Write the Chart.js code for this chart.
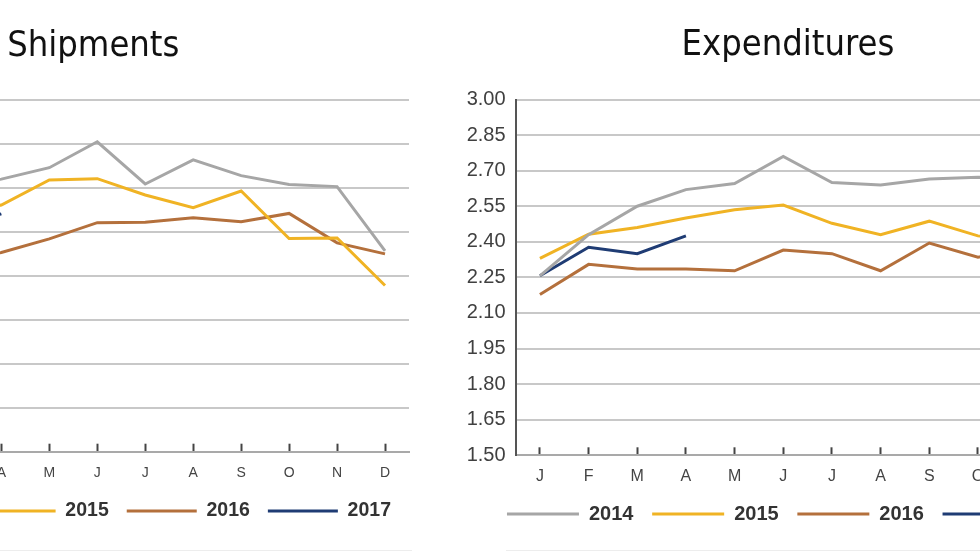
<!DOCTYPE html>
<html><head><meta charset="utf-8">
<script src="https://cdn.jsdelivr.net/npm/chart.js@4.4.1/dist/chart.umd.min.js"></script>
<style>
html,body{margin:0;padding:0;background:#fff;}
#stage{position:relative;width:980px;height:552px;overflow:hidden;background:#fff;}
#c1{position:absolute;left:-240px;top:0;}
#c2{position:absolute;left:440px;top:0;}
.rule{position:absolute;top:550px;height:1px;background:#ededed;}
</style></head><body>
<div id="stage">
<canvas id="c1" width="660" height="552"></canvas>
<canvas id="c2" width="687" height="552"></canvas>
<div class="rule" style="left:0;width:412px"></div>
<div class="rule" style="left:506px;width:474px"></div>
</div>
<script>
// ---- data ----
const months = ['J','F','M','A','M','J','J','A','S','O','N','D'];
const years = ['2014','2015','2016','2017'];
const seriesColors = ['#a6a6a6','#f0b324','#b4703c','#1f3c74'];

// Shipments (left chart)
const ship2014 = [5.55, 5.70, 6.00, 6.20, 6.46, 7.05, 6.09, 6.64, 6.28, 6.08, 6.03, 4.57];
const ship2015 = [5.10, 5.25, 5.40, 5.61, 6.18, 6.21, 5.84, 5.55, 5.93, 4.85, 4.86, 3.78];
const ship2016 = [4.05, 4.20, 4.35, 4.53, 4.84, 5.21, 5.22, 5.32, 5.23, 5.42, 4.75, 4.50];
const ship2017 = [4.60, 4.95, 5.10, 5.41];
const shipTicks = [0, 1, 2, 3, 4, 5, 6, 7, 8];

// Expenditures (right chart)
const exp2014 = [2.256, 2.430, 2.550, 2.620, 2.646, 2.760, 2.650, 2.640, 2.665, 2.672, 2.670, 2.600];
const exp2015 = [2.330, 2.432, 2.460, 2.500, 2.535, 2.555, 2.478, 2.430, 2.487, 2.425, 2.400, 2.360];
const exp2016 = [2.178, 2.305, 2.285, 2.285, 2.278, 2.365, 2.350, 2.278, 2.395, 2.335, 2.370, 2.330];
const exp2017 = [2.257, 2.377, 2.350, 2.425];
const expTicks = ['1.50','1.65','1.80','1.95','2.10','2.25','2.40','2.55','2.70','2.85','3.00'];

// ---- helpers ----
function makeDatasets(series) {
  return series.map((d, i) => ({
    label: years[i],
    data: d,
    borderColor: seriesColors[i],
    backgroundColor: seriesColors[i],
    borderWidth: 3,
    pointRadius: 0,
    pointHoverRadius: 0,
    tension: 0,
    fill: false
  }));
}
const legendLabels = (chart) =>
  Chart.defaults.plugins.legend.labels.generateLabels(chart).map(it => ({...it, fillStyle: it.strokeStyle, lineWidth: 0}));

const TITLE_FONT = "'DejaVu Sans Condensed', Roboto, sans-serif";
const BODY_FONT = "'Liberation Sans', Arial, sans-serif";

function makeChart(el, cfg) {
  const tickList = cfg.tickList.map(Number);
  const scales = {
    x: {
      type: 'category', offset: true,
      grid: { display: true, drawOnChartArea: false, drawTicks: true, tickLength: -8, tickWidth: 2, tickColor: '#444', offset: false },
      border: { display: true, color: '#a9a9a9', width: 2 },
      ticks: { color: '#444', font: { family: BODY_FONT, size: cfg.xFont }, padding: cfg.xPad, maxRotation: 0, autoSkip: false },
      afterFit: s => { s.height = cfg.xHeight; }
    },
    y: {
      min: tickList[0], max: tickList[tickList.length - 1],
      afterBuildTicks: s => { s.ticks = tickList.map(v => ({ value: v })); },
      ticks: { callback: cfg.fmt, color: '#404040', font: { family: BODY_FONT, size: 20 }, padding: 10 },
      grid: { color: '#c8c8c8', lineWidth: 2, drawTicks: false },
      border: { display: true, color: '#555', width: 2 },
      afterFit: s => { s.width = cfg.yWidth; }
    }
  };
  if (cfg.rightSpace) {
    scales.spacer = {
      type: 'linear', position: 'right', display: true,
      grid: { display: false, drawTicks: false }, border: { display: false },
      ticks: { display: false },
      afterFit: s => { s.width = cfg.rightSpace; }
    };
  }
  return new Chart(document.getElementById(el), {
    type: 'line',
    data: { labels: months, datasets: makeDatasets(cfg.series) },
    options: {
      responsive: false,
      animation: false,
      events: [],
      layout: { padding: cfg.layoutPad },
      plugins: {
        title: {
          display: true, text: cfg.title, color: '#111',
          font: { family: TITLE_FONT, size: 36, weight: 'normal', lineHeight: 1.2 },
          padding: cfg.titlePad
        },
        legend: {
          display: true, position: 'bottom', align: cfg.legendAlign,
          labels: {
            boxWidth: cfg.boxWidth, boxHeight: 3, padding: cfg.legendPad, color: '#333',
            font: { family: BODY_FONT, size: cfg.legendFont, weight: 'bold' },
            generateLabels: legendLabels
          }
        },
        tooltip: { enabled: false }
      },
      scales
    }
  });
}

makeChart('c1', {
  title: 'Shipments',
  series: [ship2014, ship2015, ship2016, ship2017],
  tickList: shipTicks,
  fmt: v => String(v),
  layoutPad: { left: 17.6, right: 11, top: 0, bottom: 21.25 },
  titlePad: { top: 25.5, bottom: 31.3 },
  legendAlign: 'end', boxWidth: 70, legendPad: 18, legendFont: 19.5,
  xFont: 14, xPad: 21.2, xHeight: 31.55, yWidth: 55.9
});

makeChart('c2', {
  title: 'Expenditures',
  series: [exp2014, exp2015, exp2016, exp2017],
  tickList: expTicks,
  fmt: v => Number(v).toFixed(2),
  layoutPad: { left: 19.6, right: 10.6, top: 0, bottom: 18 },
  titlePad: { top: 23.9, bottom: 32.4 },
  legendAlign: 'center', boxWidth: 72, legendPad: 18.7, legendFont: 20,
  xFont: 16, xPad: 19.8, xHeight: 30, yWidth: 56, rightSpace: 16.8
});
</script>
</body></html>
